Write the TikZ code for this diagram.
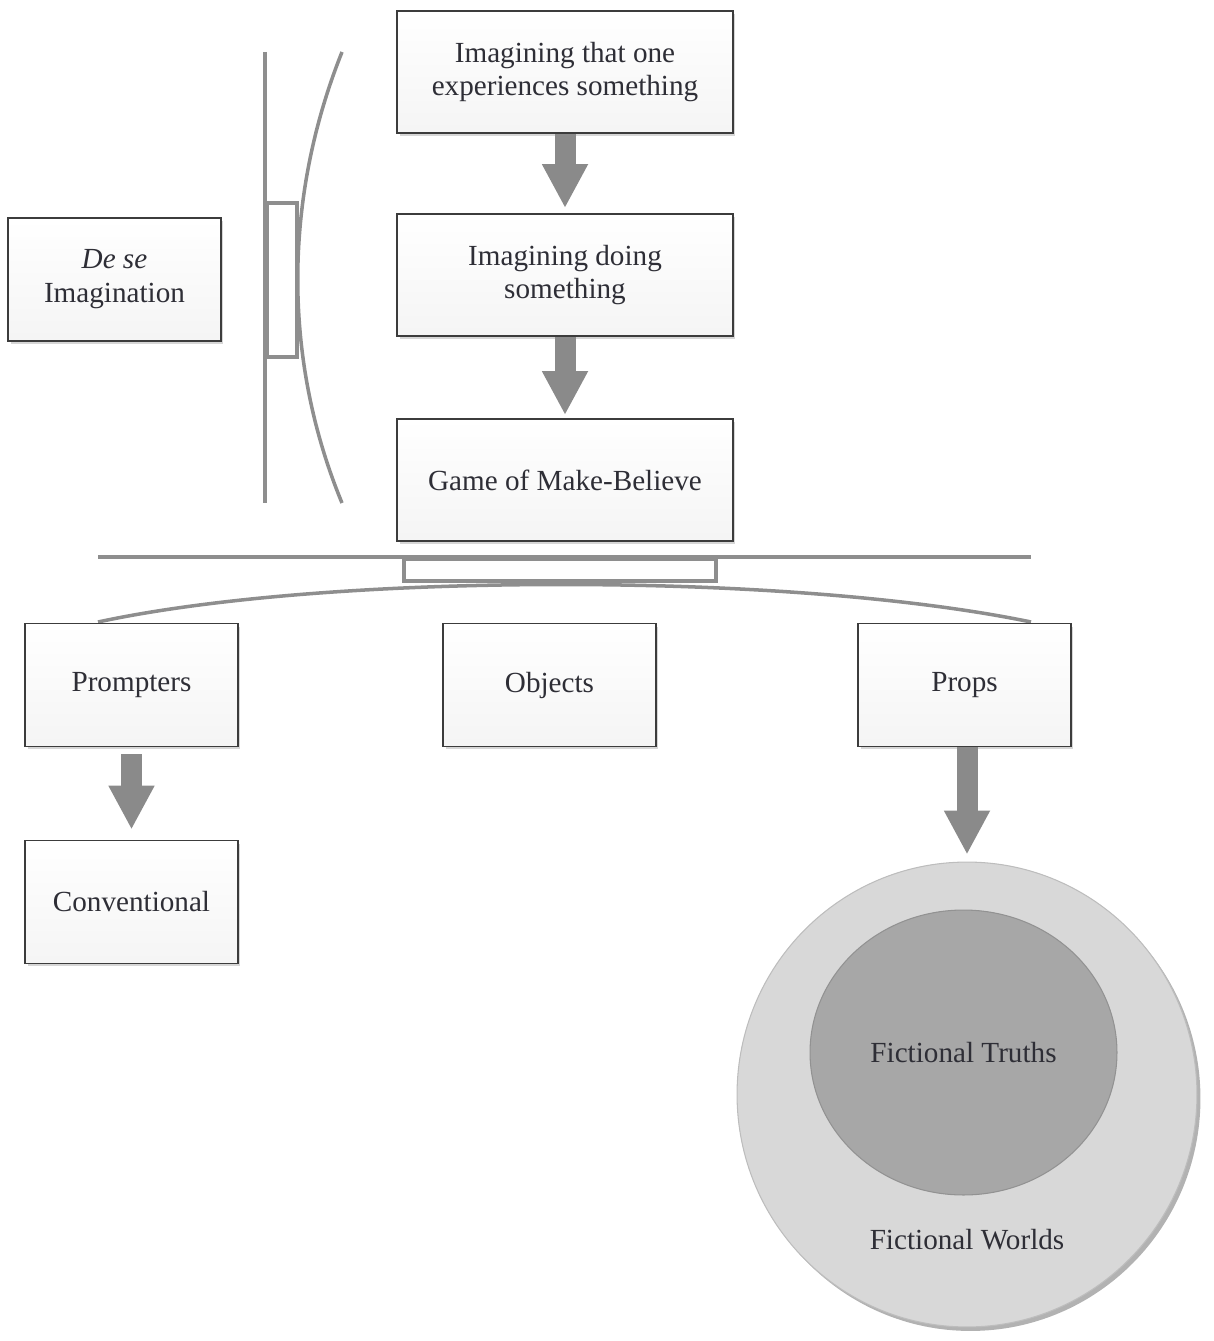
\documentclass[tikz,border=0pt]{standalone}
\usepackage{fontspec}
\setmainfont{Liberation Serif}
\usetikzlibrary{arrows.meta,shapes.geometric,shadows}

\definecolor{boxedge}{HTML}{3C3C3C}
\definecolor{txt}{HTML}{2E2E36}
\definecolor{rulegray}{HTML}{8E8E8E}
\definecolor{fatgray}{HTML}{8A8A8A}
\definecolor{worldfill}{HTML}{D8D8D8}
\definecolor{worldedge}{HTML}{BDBDBD}
\definecolor{truthfill}{HTML}{A7A7A7}
\definecolor{truthedge}{HTML}{929292}

\begin{document}
\begin{tikzpicture}[x=0.02cm,y=-0.02cm,
  box/.style={draw=boxedge, line width=1.1pt, top color=white, bottom color=black!4,
    text=txt, align=center, inner sep=0pt, font=\fontsize{16.6}{19.3}\selectfont,
    drop shadow={shadow xshift=0.05cm, shadow yshift=-0.06cm, opacity=0.16, fill=black}},
  widebox/.style={box, minimum width=6.72cm, minimum height=2.44cm},
  smallbox/.style={box, minimum width=4.26cm, minimum height=2.46cm},
  fatarrow/.style={draw=fatgray, line width=0.42cm, -{Triangle[width=0.86cm,length=0.88cm]}},
  rulepen/.style={draw=rulegray, line width=2pt},
  bartab/.style={draw=rulegray, line width=1.8pt, fill=white},
  disc/.style={ellipse, inner sep=0pt, text=txt, font=\fontsize{16.6}{19.3}\selectfont},
]
\useasboundingbox (0,0) rectangle (1213,1341);

% upper column
\node[widebox] (exp)  at (565,72)    {Imagining that one\\experiences something};
\node[widebox, minimum height=2.44cm] (doing) at (565,275)  {Imagining doing\\something};
\node[widebox] (game) at (565,480) {Game of Make-Believe};
\node[smallbox] (dese) at (114.5,279.5) {\textit{De se}\\Imagination};

% left bracket
\draw[rulepen] (265,52) -- (265,503);
\draw[bartab] (267,203) rectangle (297,357);
\draw[rulepen] (342,52) .. controls (283,200) and (283,360) .. (342,503);

% lower bracket
\draw[rulepen] (98,557) -- (1031,557);
\draw[bartab] (404,559) rectangle (716,581);
\draw[rulepen] (98,622) .. controls (330,572) and (790,572) .. (1031,622);

% lower row
\node[smallbox] (prompt) at (131.5,685) {Prompters};
\node[smallbox] (obj)    at (549.5,685) {Objects};
\node[smallbox] (props)  at (964.5,685) {Props};
\node[smallbox] (conv)   at (131.5,902) {Conventional};

% nested worlds
\node[disc, draw=worldedge, line width=0.6pt, fill=worldfill, minimum width=9.2cm, minimum height=9.3cm,
  drop shadow={shadow xshift=0.07cm, shadow yshift=-0.08cm, opacity=0.3, fill=black}] (worlds) at (967,1094.5) {};
\node[disc, draw=truthedge, line width=0.6pt, fill=truthfill, minimum width=6.14cm, minimum height=5.7cm] (truths) at (963.5,1052.5) {Fictional Truths};
\node[text=txt, font=\fontsize{16.6}{19.3}\selectfont] (worldlabel) at (967,1240) {Fictional Worlds};

% arrows
\draw[fatarrow, shorten >=0.1cm] (exp.south) -- (doing.north);
\draw[fatarrow, shorten >=0.06cm] (doing.south) -- (game.north);
\draw[fatarrow, shorten <=0.14cm, shorten >=0.2cm] (prompt.south) -- (conv.north);
\draw[fatarrow, shorten >=0.14cm] ([xshift=0.05cm]props.south) -- ([xshift=0.05cm]props.south |- worlds.north);
\end{tikzpicture}
\end{document}
